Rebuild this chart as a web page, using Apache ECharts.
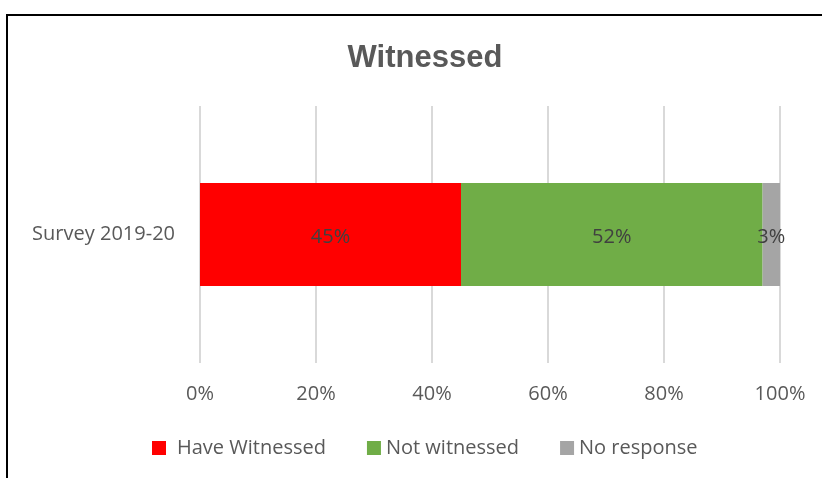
<!DOCTYPE html>
<html>
<head>
<meta charset="utf-8">
<script src="https://cdn.jsdelivr.net/npm/echarts@6/dist/echarts.min.js"></script>
<style>
  html, body { margin: 0; padding: 0; background: #fff; }
  #chart { width: 822px; height: 478px; }
</style>
</head>
<body>
<div id="chart"></div>
<script>
const categories = ["Survey 2019-20"];
const seriesNames = ["Have Witnessed", "Not witnessed", "No response"];
const haveWitnessed = [45];
const notWitnessed = [52];
const noResponse = [3];
const colors = ["#ff0000", "#70ad47", "#a5a5a5"];

const font = "'Open Sans', 'Noto Sans', sans-serif";
const chart = echarts.init(document.getElementById("chart"));

function bar(name, data, color) {
  return {
    name: name,
    type: "bar",
    stack: "total",
    data: data,
    barWidth: "40%",
    itemStyle: { color: color },
    label: {
      show: true,
      position: "inside",
      formatter: "{c}%",
      color: "#404040",
      fontSize: 20,
      fontFamily: font,
      offset: [0, 3]
    }
  };
}

const option = {
  animation: false,
  title: {
    text: "Witnessed",
    left: 420,
    top: 38,
    textAlign: "center",
    textStyle: {
      fontFamily: "'Liberation Sans', Arial, sans-serif",
      fontWeight: "bold",
      fontSize: 31,
      color: "#595959"
    }
  },
  legend: {
    left: 147,
    top: 433,
    itemWidth: 14,
    itemHeight: 14,
    itemGap: 41,
    icon: "rect",
    textStyle: { fontFamily: font, fontSize: 20, color: "#595959" },
    data: [
      { name: seriesNames[0], textStyle: { padding: [0, 0, 0, 6] } },
      { name: seriesNames[1] },
      { name: seriesNames[2] }
    ]
  },
  grid: { left: 200, right: 42, top: 106, bottom: 115, containLabel: false },
  xAxis: {
    type: "value",
    min: 0,
    max: 100,
    interval: 20,
    axisLine: { show: false },
    axisTick: { show: false },
    splitLine: { lineStyle: { color: "#d9d9d9", width: 2 } },
    axisLabel: {
      formatter: "{value}%",
      margin: 21,
      color: "#595959",
      fontSize: 20,
      fontFamily: font
    }
  },
  yAxis: {
    type: "category",
    data: categories,
    axisLine: { show: false },
    axisTick: { show: false },
    axisLabel: { margin: 25, color: "#595959", fontSize: 20, fontFamily: font, padding: [4, 0, 0, 0] }
  },
  graphic: [
    {
      type: "polyline",
      shape: { points: [[7, 478], [7, 15], [822, 15]] },
      style: { stroke: "#000", lineWidth: 2, fill: null }
    }
  ],
  series: [
    bar(seriesNames[0], haveWitnessed, colors[0]),
    bar(seriesNames[1], notWitnessed, colors[1]),
    bar(seriesNames[2], noResponse, colors[2])
  ]
};
chart.setOption(option);
</script>
</body>
</html>
